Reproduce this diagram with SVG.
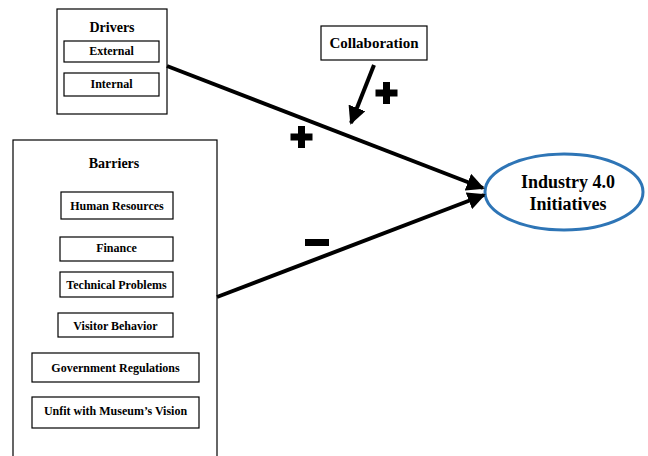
<svg xmlns="http://www.w3.org/2000/svg" width="648" height="456" viewBox="0 0 648 456">
<defs>
<style>
.box{fill:#fff;stroke:#000;stroke-width:1.2}
.t{font-family:"Liberation Serif","Times New Roman",serif;font-weight:bold;fill:#000;text-anchor:middle}
.s{font-size:12px}
.h{font-size:14px}
.conn{stroke:#000;stroke-width:4;fill:none}
.sign{fill:#000}
</style>
<marker id="ah" viewBox="0 0 10 10" refX="9" refY="5" markerWidth="4.5" markerHeight="4.5" orient="auto" markerUnits="strokeWidth">
<path d="M0,0 L10,5 L0,10 z" fill="#000"/>
</marker>
</defs>
<rect width="648" height="456" fill="#fff"/>
<g id="drivers">
<rect class="box" x="57" y="9" width="110" height="105"/>
<text class="t h" x="112" y="32">Drivers</text>
<rect class="box" x="64" y="41" width="95" height="21"/>
<text class="t s" x="111.5" y="55">External</text>
<rect class="box" x="64" y="73" width="95" height="23"/>
<text class="t s" x="111.5" y="88">Internal</text>
</g>
<g id="barriers">
<rect class="box" x="13" y="140" width="204" height="330"/>
<text class="t h" x="114" y="168">Barriers</text>
<rect class="box" x="61" y="192" width="112" height="27"/>
<text class="t s" x="117" y="210">Human Resources</text>
<rect class="box" x="60" y="237" width="113" height="24"/>
<text class="t s" x="116.5" y="252">Finance</text>
<rect class="box" x="60" y="272" width="113" height="25"/>
<text class="t s" x="116.5" y="289">Technical Problems</text>
<rect class="box" x="58" y="313" width="115" height="24"/>
<text class="t s" x="115.5" y="330">Visitor Behavior</text>
<rect class="box" x="32" y="353" width="167" height="29"/>
<text class="t s" x="115.5" y="372">Government Regulations</text>
<rect class="box" x="32" y="397" width="167" height="31"/>
<text class="t s" x="115.5" y="415">Unfit with Museum’s Vision</text>
</g>
<g id="collaboration">
<rect class="box" x="321" y="26" width="106" height="34"/>
<text class="t" style="font-size:15px" x="374" y="48">Collaboration</text>
</g>
<g id="industry">
<ellipse cx="564" cy="192" rx="79" ry="38" fill="#fff" stroke="#2E75B6" stroke-width="3"/>
<text class="t" style="font-size:18px" x="568" y="188">Industry 4.0</text>
<text class="t" style="font-size:18px" x="568" y="210">Initiatives</text>
</g>
<g id="connectors">
<line class="conn" x1="167" y1="66" x2="483" y2="188" marker-end="url(#ah)"/>
<line class="conn" x1="217" y1="297" x2="484" y2="195" marker-end="url(#ah)"/>
<line class="conn" x1="374" y1="65" x2="351" y2="123" stroke-width="3.5" marker-end="url(#ah)"/>
<path class="sign" d="M298,126 h7 v7.5 h7.5 v7 h-7.5 v7.5 h-7 v-7.5 h-7.5 v-7 h7.5 z"/>
<path class="sign" d="M383,82 h7 v7.5 h7.5 v7 h-7.5 v7.5 h-7 v-7.5 h-7.5 v-7 h7.5 z"/>
<rect class="sign" x="305" y="239" width="24" height="7"/>
</g>
</svg>
